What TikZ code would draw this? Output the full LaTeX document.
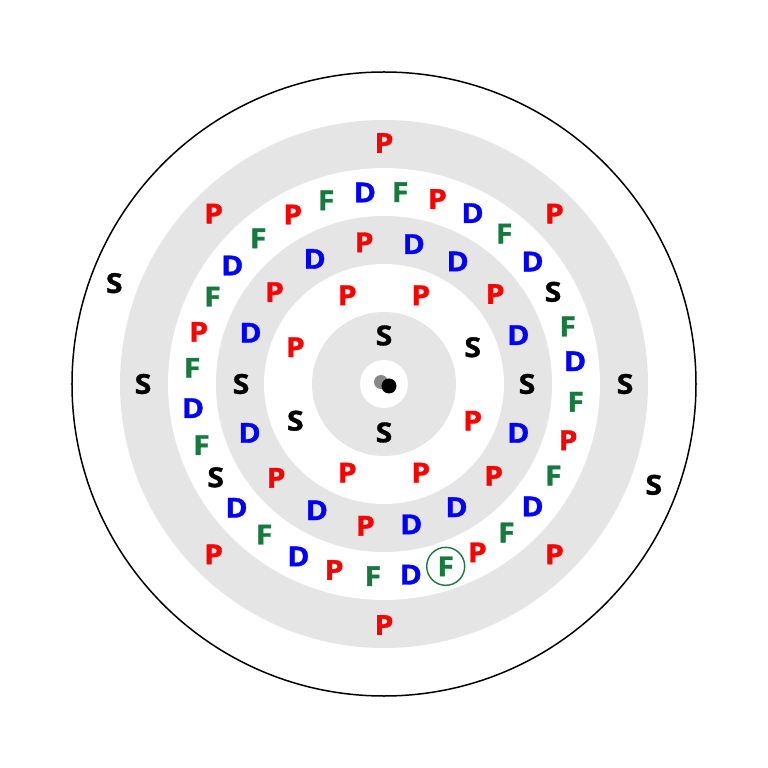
\documentclass[tikz,border=0pt]{standalone}
\usepackage{fontspec}
\setmainfont{Open Sans}[FakeStretch=1.1, BoldFeatures={FakeBold=1.2}]
\definecolor{fgreen}{RGB}{22,121,61}
\definecolor{ringgray}{RGB}{229,229,229}
\definecolor{dotgray}{RGB}{136,136,136}

\begin{document}
\begin{tikzpicture}[x=1pt, y=1pt, thick,
		orb/.style = {inner sep=0pt, font=\fontsize{27.5}{32}\selectfont\bfseries},
		orbS/.style = {orb, color=black},
		orbP/.style = {orb, color=red},
		orbD/.style = {orb, color=blue},
		orbF/.style = {orb, color=fgreen}]
		\useasboundingbox (-384,-384) rectangle (384,384);
		% shells
		\draw[line width=1.5pt] (0,0) circle (312);
		\fill[ringgray] (0,0) circle (264);
		\fill[white] (0,0) circle (216);
		\fill[ringgray] (0,0) circle (168);
		\fill[white] (0,0) circle (120);
		\fill[ringgray] (0,0) circle (72);
		\fill[white] (0,0) circle (24);
		% nucleus
		\fill[dotgray] (-3,2) circle (7);
		\fill[black] (5,-2) circle (7.5);
		% electrons
		\node[orbS] (a0) at (90:48.5) {S};
		\node[orbS] (a1) at (270:48.5) {S};
		\foreach \l [count=\i from 0] in {S,P,P,P,S,P,P,P}
			\node[orb\l] (b\i) at ({22.5+45*\i}:96) {\l};
		\foreach \a/\l [count=\i from 0] in {0/S,20/D,39/P,59/D,78/D,98/P,119/D,140/P,159/D,
				180/S,200/D,221/P,242/D,262.5/P,281/D,300.5/D,320/P,340/D}
			\node[orb\l] (c\i) at (\a:143) {\l};
		\foreach \a/\l [count=\i from 0] in {6.8/D,17.4/F,28.6/S,39.5/D,51.4/F,62.6/D,73.9/P,85.2/F,
				95.7/D,107.5/F,118.3/P,130.8/F,142/D,153/F,164.3/P,175.2/F,
				187.2/D,198.5/F,209/S,220/D,231.5/F,243.6/D,255/P,266.7/F,
				278/D,288.7/F,299/P,309.5/F,320.5/D,331.6/F,343/P,354.7/F}
			\node[orb\l] (d\i) at (\a:192.5) {\l};
		\foreach \l [count=\i from 0] in {S,P,P,P,S,P,P,P}
			\node[orb\l] (e\i) at ({45*\i}:241) {\l};
		\node[orbS] (f0) at (159.5:288) {S};
		\node[orbS] (f1) at (339.5:288) {S};
		\draw[fgreen, line width=1.4pt] (d25) circle (19);
	\end{tikzpicture}
\end{document}
